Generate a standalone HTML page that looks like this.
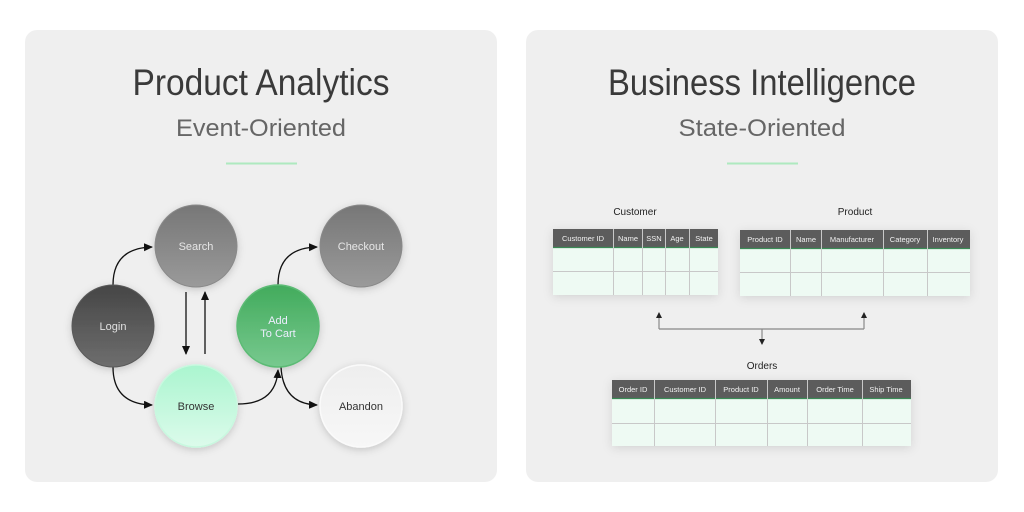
<!DOCTYPE html>
<html><head><meta charset="utf-8"><style>
html,body{margin:0;padding:0;background:#fff;width:1024px;height:512px;overflow:hidden}
svg{display:block}
text{font-family:"Liberation Sans",sans-serif}
</style></head><body>
<svg width="1024" height="512" viewBox="0 0 1024 512" xmlns="http://www.w3.org/2000/svg">
<defs>
<linearGradient id="gS" x1="0" y1="0" x2="0" y2="1"><stop offset="0" stop-color="#777"/><stop offset="1" stop-color="#9a9a9a"/></linearGradient>
<linearGradient id="gL" x1="0" y1="0" x2="0" y2="1"><stop offset="0" stop-color="#464646"/><stop offset="1" stop-color="#6e6e6e"/></linearGradient>
<linearGradient id="gB" x1="0" y1="0" x2="0" y2="1"><stop offset="0" stop-color="#aaf5cf"/><stop offset="1" stop-color="#dcfbeb"/></linearGradient>
<linearGradient id="gA" x1="0" y1="0" x2="0" y2="1"><stop offset="0" stop-color="#42ab5c"/><stop offset="1" stop-color="#78c98f"/></linearGradient>
<linearGradient id="gW" x1="0" y1="0" x2="0" y2="1"><stop offset="0" stop-color="#eeeeee"/><stop offset="1" stop-color="#f7f7f7"/></linearGradient>
<filter id="sh" x="-30%" y="-30%" width="160%" height="160%"><feDropShadow dx="0" dy="2" stdDeviation="4" flood-color="#000" flood-opacity="0.18"/></filter>
<filter id="tsh" x="-10%" y="-20%" width="120%" height="150%"><feDropShadow dx="0" dy="2" stdDeviation="5" flood-color="#000" flood-opacity="0.12"/></filter>
<marker id="ah" markerWidth="10" markerHeight="10" refX="8" refY="4" orient="auto" markerUnits="userSpaceOnUse"><path d="M0,0 L9,4 L0,8 z" fill="#111"/></marker>
<marker id="ag" markerWidth="8" markerHeight="8" refX="5" refY="3" orient="auto" markerUnits="userSpaceOnUse"><path d="M0,0 L6,3 L0,6 z" fill="#222"/></marker>
</defs>
<rect x="25" y="30" width="472" height="452" rx="12" fill="#efefef"/>
<rect x="526" y="30" width="472" height="452" rx="12" fill="#efefef"/>

<text x="261" y="95" font-size="37" fill="#3a3a3a" text-anchor="middle" textLength="257" lengthAdjust="spacingAndGlyphs">Product Analytics</text>
<text x="261" y="136" font-size="24" fill="#666" text-anchor="middle" textLength="170" lengthAdjust="spacingAndGlyphs">Event-Oriented</text>
<line x1="226" y1="163.5" x2="297" y2="163.5" stroke="#aee9bf" stroke-width="2"/>

<text x="762" y="95" font-size="37" fill="#3a3a3a" text-anchor="middle" textLength="308" lengthAdjust="spacingAndGlyphs">Business Intelligence</text>
<text x="762" y="136" font-size="24" fill="#666" text-anchor="middle" textLength="167" lengthAdjust="spacingAndGlyphs">State-Oriented</text>
<line x1="727" y1="163.5" x2="798" y2="163.5" stroke="#aee9bf" stroke-width="2"/>

<g fill="none" stroke="#111" stroke-width="1.3">
<path d="M113,285 Q113,248 152,247" marker-end="url(#ah)"/>
<path d="M113,367 Q113,404 152,405" marker-end="url(#ah)"/>
<path d="M186,292 L186,354" marker-end="url(#ah)"/>
<path d="M205,354 L205,292" marker-end="url(#ah)"/>
<path d="M238,404 Q276,404 278,370" marker-end="url(#ah)"/>
<path d="M278,285 Q278,248 317,247" marker-end="url(#ah)"/>
<path d="M281,367 Q283,404 317,405" marker-end="url(#ah)"/>
</g>

<g filter="url(#sh)">
<circle cx="196" cy="246" r="41" fill="url(#gS)" stroke="#8a8a8a" stroke-width="1"/>
<circle cx="113" cy="326" r="41" fill="url(#gL)" stroke="#5a5a5a" stroke-width="1"/>
<circle cx="196" cy="406" r="41" fill="url(#gB)" stroke="#c8f8df" stroke-width="1.5"/>
<circle cx="278" cy="326" r="41" fill="url(#gA)" stroke="#5cbb74" stroke-width="1.5"/>
<circle cx="361" cy="246" r="41" fill="url(#gS)" stroke="#8a8a8a" stroke-width="1"/>
<circle cx="361" cy="406" r="41" fill="url(#gW)" stroke="#fafafa" stroke-width="1.5"/>
</g>
<g font-size="11" text-anchor="middle">
<text x="196" y="250" fill="#e6e6e6">Search</text>
<text x="113" y="330" fill="#e0e0e0">Login</text>
<text x="196" y="410" fill="#333">Browse</text>
<text x="278" y="324" fill="#eef">Add</text>
<text x="278" y="337" fill="#eef">To Cart</text>
<text x="361" y="250" fill="#e6e6e6">Checkout</text>
<text x="361" y="410" fill="#333">Abandon</text>
</g>

<g font-size="10" fill="#222" text-anchor="middle">
<text x="635" y="215">Customer</text>
<text x="855" y="215">Product</text>
<text x="762" y="369">Orders</text>
</g>

<g filter="url(#tsh)"><rect x="553" y="229" width="165" height="66" fill="#eefaf3"/></g>
<rect x="553" y="229" width="165" height="18" fill="#5c5c5c"/>
<line x1="553" y1="247.5" x2="718" y2="247.5" stroke="#3a8a55" stroke-width="1.2"/>
<g stroke="#c8c8c8" stroke-width="1">
<line x1="553" y1="271.5" x2="718" y2="271.5"/>
<line x1="613.5" y1="229" x2="613.5" y2="295"/><line x1="642.5" y1="229" x2="642.5" y2="295"/>
<line x1="665.5" y1="229" x2="665.5" y2="295"/><line x1="689.5" y1="229" x2="689.5" y2="295"/>
</g>
<g font-size="7.5" fill="#f2f2f2" text-anchor="middle">
<text x="583" y="241">Customer ID</text><text x="628" y="241">Name</text><text x="654" y="241">SSN</text><text x="677" y="241">Age</text><text x="704" y="241">State</text>
</g>

<g filter="url(#tsh)"><rect x="740" y="230" width="230" height="66" fill="#eefaf3"/></g>
<rect x="740" y="230" width="230" height="18" fill="#5c5c5c"/>
<line x1="740" y1="248.5" x2="970" y2="248.5" stroke="#3a8a55" stroke-width="1.2"/>
<g stroke="#c8c8c8" stroke-width="1">
<line x1="740" y1="272.5" x2="970" y2="272.5"/>
<line x1="790.5" y1="230" x2="790.5" y2="296"/><line x1="821.5" y1="230" x2="821.5" y2="296"/>
<line x1="883.5" y1="230" x2="883.5" y2="296"/><line x1="927.5" y1="230" x2="927.5" y2="296"/>
</g>
<g font-size="7.5" fill="#f2f2f2" text-anchor="middle">
<text x="765" y="242">Product ID</text><text x="806" y="242">Name</text><text x="852" y="242">Manufacturer</text><text x="905" y="242">Category</text><text x="948" y="242">Inventory</text>
</g>

<g filter="url(#tsh)"><rect x="612" y="380" width="299" height="66" fill="#eefaf3"/></g>
<rect x="612" y="380" width="299" height="18" fill="#5c5c5c"/>
<line x1="612" y1="398.5" x2="911" y2="398.5" stroke="#3a8a55" stroke-width="1.2"/>
<g stroke="#c8c8c8" stroke-width="1">
<line x1="612" y1="423.5" x2="911" y2="423.5"/>
<line x1="654.5" y1="380" x2="654.5" y2="446"/><line x1="715.5" y1="380" x2="715.5" y2="446"/>
<line x1="767.5" y1="380" x2="767.5" y2="446"/><line x1="807.5" y1="380" x2="807.5" y2="446"/>
<line x1="862.5" y1="380" x2="862.5" y2="446"/>
</g>
<g font-size="7.5" fill="#f2f2f2" text-anchor="middle">
<text x="633" y="392">Order ID</text><text x="685" y="392">Customer ID</text><text x="741" y="392">Product ID</text><text x="787" y="392">Amount</text><text x="835" y="392">Order Time</text><text x="886" y="392">Ship Time</text>
</g>

<g fill="none" stroke="#888" stroke-width="1.2">
<path d="M659,329 L659,313" marker-end="url(#ag)"/>
<path d="M864,329 L864,313" marker-end="url(#ag)"/>
<path d="M659,329 L864,329"/>
<path d="M762,329 L762,344" marker-end="url(#ag)"/>
</g>
</svg>
</body></html>
